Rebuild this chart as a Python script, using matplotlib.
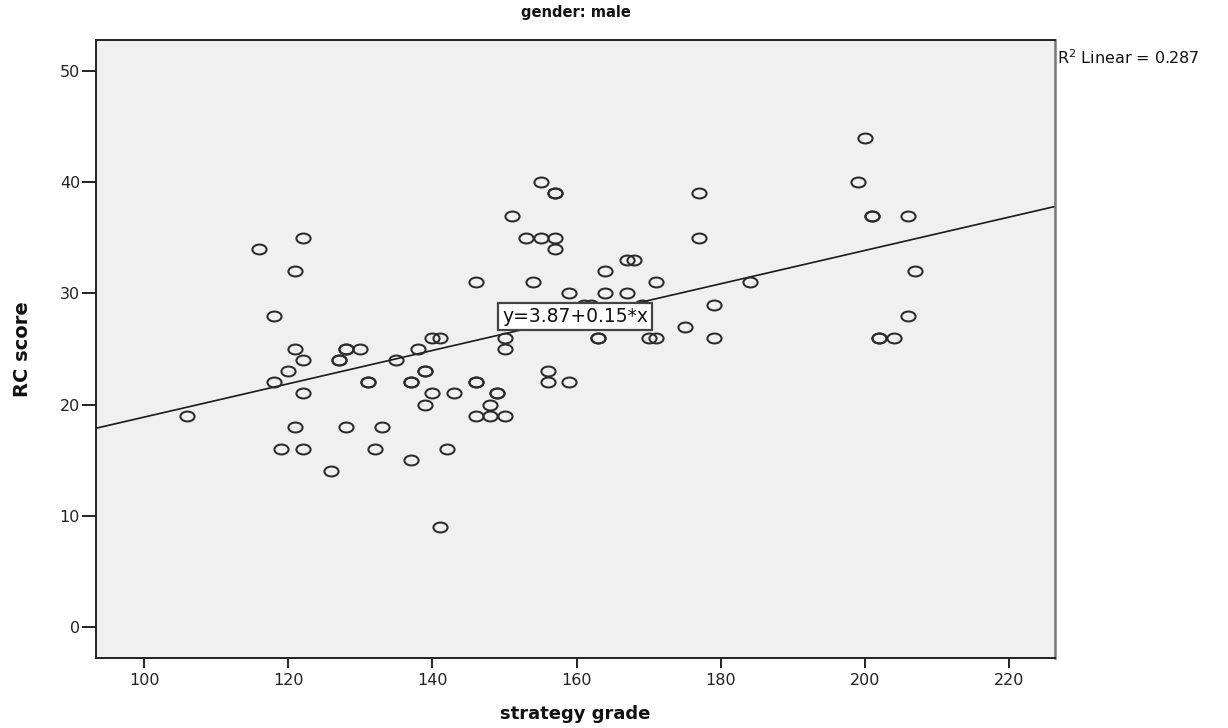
import numpy as np
import matplotlib
matplotlib.use("Agg")
import matplotlib.pyplot as plt
from matplotlib.path import Path

# strategy grade vs. RC score, male respondents
strategy_grade = [
    106, 116, 118, 118, 119, 120, 121, 121, 121, 122, 122, 122, 122,
    126, 127, 127, 128, 128, 128, 130, 131, 131, 132, 133, 135,
    137, 137, 137, 138, 139, 139, 139, 140, 140, 141, 141, 142, 143,
    146, 146, 146, 146, 148, 148, 149, 149, 150, 150, 150, 151,
    153, 154, 155, 155, 156, 156, 157, 157, 157, 157, 159, 159,
    161, 162, 163, 163, 164, 164, 167, 168, 167, 169, 170, 171, 171,
    175, 177, 177, 179, 179, 184, 199, 200, 201, 201, 202, 202, 204,
    206, 206, 207,
]
rc_score = [
    19, 34, 28, 22, 16, 23, 32, 25, 18, 35, 24, 21, 16,
    14, 24, 24, 25, 25, 18, 25, 22, 22, 16, 18, 24,
    22, 22, 15, 25, 23, 23, 20, 26, 21, 26, 9, 16, 21,
    31, 22, 22, 19, 20, 19, 21, 21, 26, 25, 19, 37,
    35, 31, 40, 35, 23, 22, 39, 39, 35, 34, 30, 22,
    29, 29, 26, 26, 32, 30, 33, 33, 30, 29, 26, 31, 26,
    27, 39, 35, 29, 26, 31, 40, 44, 37, 37, 26, 26, 26,
    37, 28, 32,
]

# fitted line and its summary
intercept = 3.87
slope = 0.15
r_squared = 0.287

x_ticks = [100, 120, 140, 160, 180, 200, 220]
y_ticks = [0, 10, 20, 30, 40, 50]
x_limits = (93.34, 226.35)
y_limits = (-2.8, 52.8)

W, H = 1228, 728
fig = plt.figure(figsize=(W / 100, H / 100), dpi=100)
fig.patch.set_facecolor("white")
ax = fig.add_axes([96 / W, 1 - 658 / H, (1055 - 96) / W, (658 - 40) / H])
ax.set_facecolor("#f0f0f0")

# slightly flattened open-circle marker
uc = Path.unit_circle()
ellipse = Path(uc.vertices * np.array([1.0, 0.7]), uc.codes)

ax.plot(strategy_grade, rc_score, linestyle="none", marker=ellipse,
        markersize=10.2, markerfacecolor="none", markeredgecolor="#2a2a2a",
        markeredgewidth=1.45, zorder=3)

xs = np.array(x_limits)
ax.plot(xs, intercept + slope * xs, color="#1a1a1a", linewidth=1.2, zorder=2)

ax.set_xlim(*x_limits)
ax.set_ylim(*y_limits)
ax.set_xticks(x_ticks)
ax.set_yticks(y_ticks)
ax.tick_params(axis="x", direction="out", length=7, width=1.4, pad=4,
               labelsize=11.5, colors="#222222")
ax.tick_params(axis="y", direction="out", length=10, width=1.4, pad=1.5,
               labelsize=11.5, colors="#222222")
for side in ["left", "bottom", "top"]:
    ax.spines[side].set_color("#222222")
    ax.spines[side].set_linewidth(1.4)
ax.spines["right"].set_color("#777777")
ax.spines["right"].set_linewidth(1.8)

eq_x = 159.8
eq_y = 27.9
ax.text(eq_x, eq_y, f"y={intercept}+{slope}*x", ha="center", va="center",
        fontsize=13.5, family="DejaVu Sans", color="#111111", zorder=5,
        bbox=dict(boxstyle="square,pad=0.22", facecolor="white",
                  edgecolor="#444444", linewidth=1.6))

fig.text(1057 / W, 1 - 58 / H, f"R$^2$ Linear = {r_squared}", ha="left",
         va="center", fontsize=11.5, family="DejaVu Sans", color="#111111")

fig.text(575.5 / W, 1 - 13 / H, "gender: male", ha="center", va="center",
         fontsize=10.5, fontweight="bold", color="#111111")
fig.text(575.5 / W, 1 - 714 / H, "strategy grade", ha="center", va="center",
         fontsize=13, fontweight="bold", color="#111111")
fig.text(23 / W, 1 - 349 / H, "RC score", ha="center", va="center",
         rotation=90, fontsize=14, fontweight="bold", color="#111111")

fig.savefig("out.png", dpi=100)
